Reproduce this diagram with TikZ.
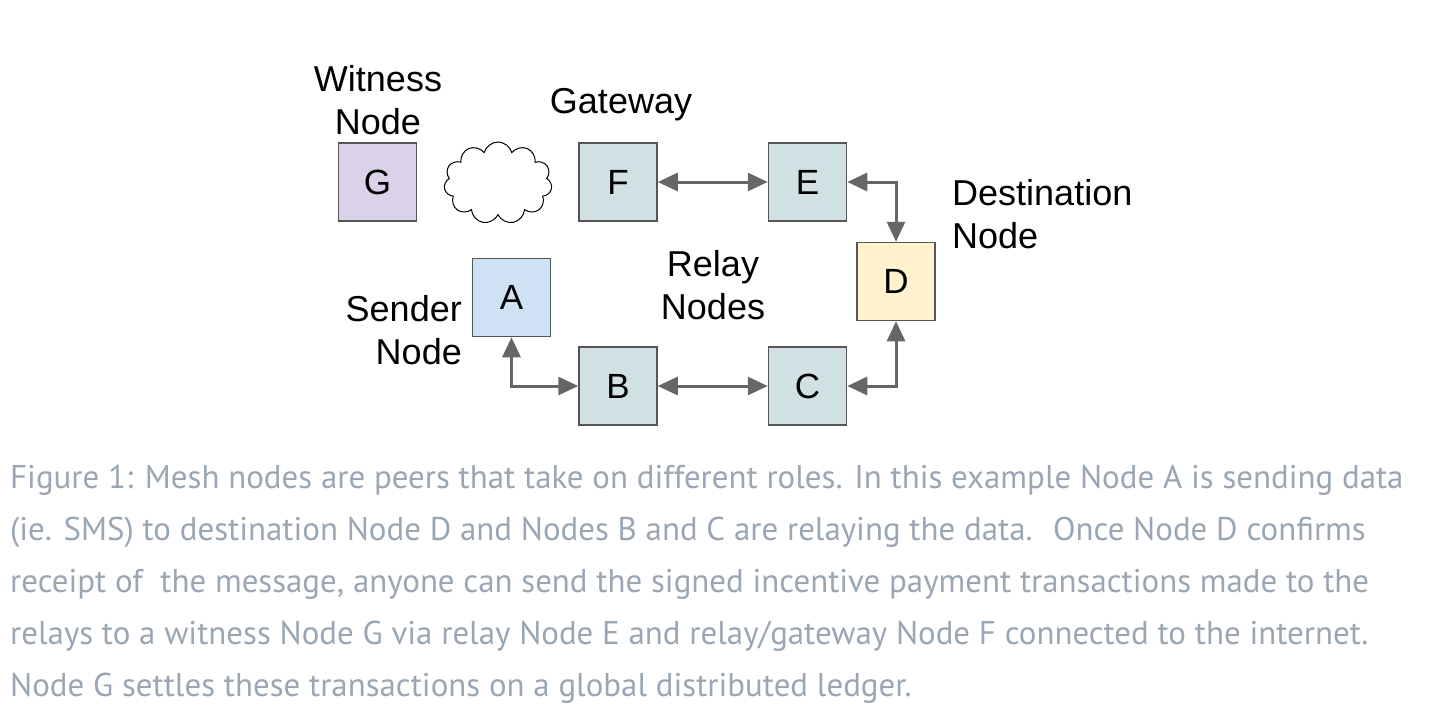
\documentclass[tikz,border=0pt]{standalone}
\usepackage{fontspec}
\setmainfont{Liberation Sans}
\newfontfamily\capfont{PT Sans}
\usetikzlibrary{arrows.meta, shapes.symbols}
\definecolor{witnessfill}{HTML}{D9D2E9}
\definecolor{relayfill}{HTML}{D0E0E3}
\definecolor{destfill}{HTML}{FFF2CC}
\definecolor{senderfill}{HTML}{CFE2F3}
\definecolor{boxline}{HTML}{555555}
\definecolor{linkgray}{HTML}{666666}
\definecolor{capgray}{HTML}{9AA6B3}

\begin{document}
\begin{tikzpicture}[x=1pt, y=-1pt,
  meshbox/.style={draw=boxline, line width=1.5pt, minimum size=78pt, inner sep=0pt, font=\fontsize{35}{40}\selectfont},
  link/.style={draw=linkgray, line width=3pt, {Triangle[length=20pt,width=18pt]}-{Triangle[length=20pt,width=18pt]}},
  lbl/.style={font=\fontsize{36}{43}\selectfont, align=center, inner sep=0pt},
  capline/.style={anchor=west, inner sep=0pt, text=capgray, font=\capfont\fontsize{32.9}{36}\selectfont}]
\useasboundingbox (0,0) rectangle (1434,720);
\node[meshbox, fill=witnessfill] (g) at (377.5,182) {G};
\node[draw, cloud, cloud puffs=11, minimum width=108pt, minimum height=82pt, line width=1pt] (net) at (498,183) {};
\node[meshbox, fill=relayfill] (f) at (618,182) {F};
\node[meshbox, fill=relayfill] (e) at (807.5,182) {E};
\node[meshbox, fill=destfill] (d) at (896,281.5) {D};
\node[meshbox, fill=senderfill] (a) at (511.5,297.5) {A};
\node[meshbox, fill=relayfill] (b) at (618,386) {B};
\node[meshbox, fill=relayfill] (c) at (807.5,386) {C};
\draw[link] (f) -- (e);
\draw[link] (e) -| (d);
\draw[link] (c) -| (d);
\draw[link] (b) -- (c);
\draw[link] (a) |- (b);
\node[lbl] (witness) at (378,100) {Witness\\Node};
\node[lbl] (gateway) at (621,105) {Gateway};
\node[lbl, anchor=west, align=left] (dest) at (952,214) {Destination\\Node};
\node[lbl] (relay) at (713,285) {Relay\\Nodes};
\node[lbl, anchor=east, align=right] (sender) at (462,330) {Sender\\Node};
\node[capline] (cap1) at (10,480) {Figure 1: Mesh nodes are peers that take on different roles. In this example Node A is sending data};
\node[capline] (cap2) at (10,532) {(ie. SMS) to destination Node D and Nodes B and C are relaying the data.~ Once Node D confirms};
\node[capline] (cap3) at (10,584) {receipt of~ the message, anyone can send the signed incentive payment transactions made to the};
\node[capline] (cap4) at (10,636) {relays to a witness Node G via relay Node E and relay/gateway Node F connected to the internet.};
\node[capline] (cap5) at (10,688) {Node G settles these transactions on a global distributed ledger.};
\end{tikzpicture}
\end{document}
